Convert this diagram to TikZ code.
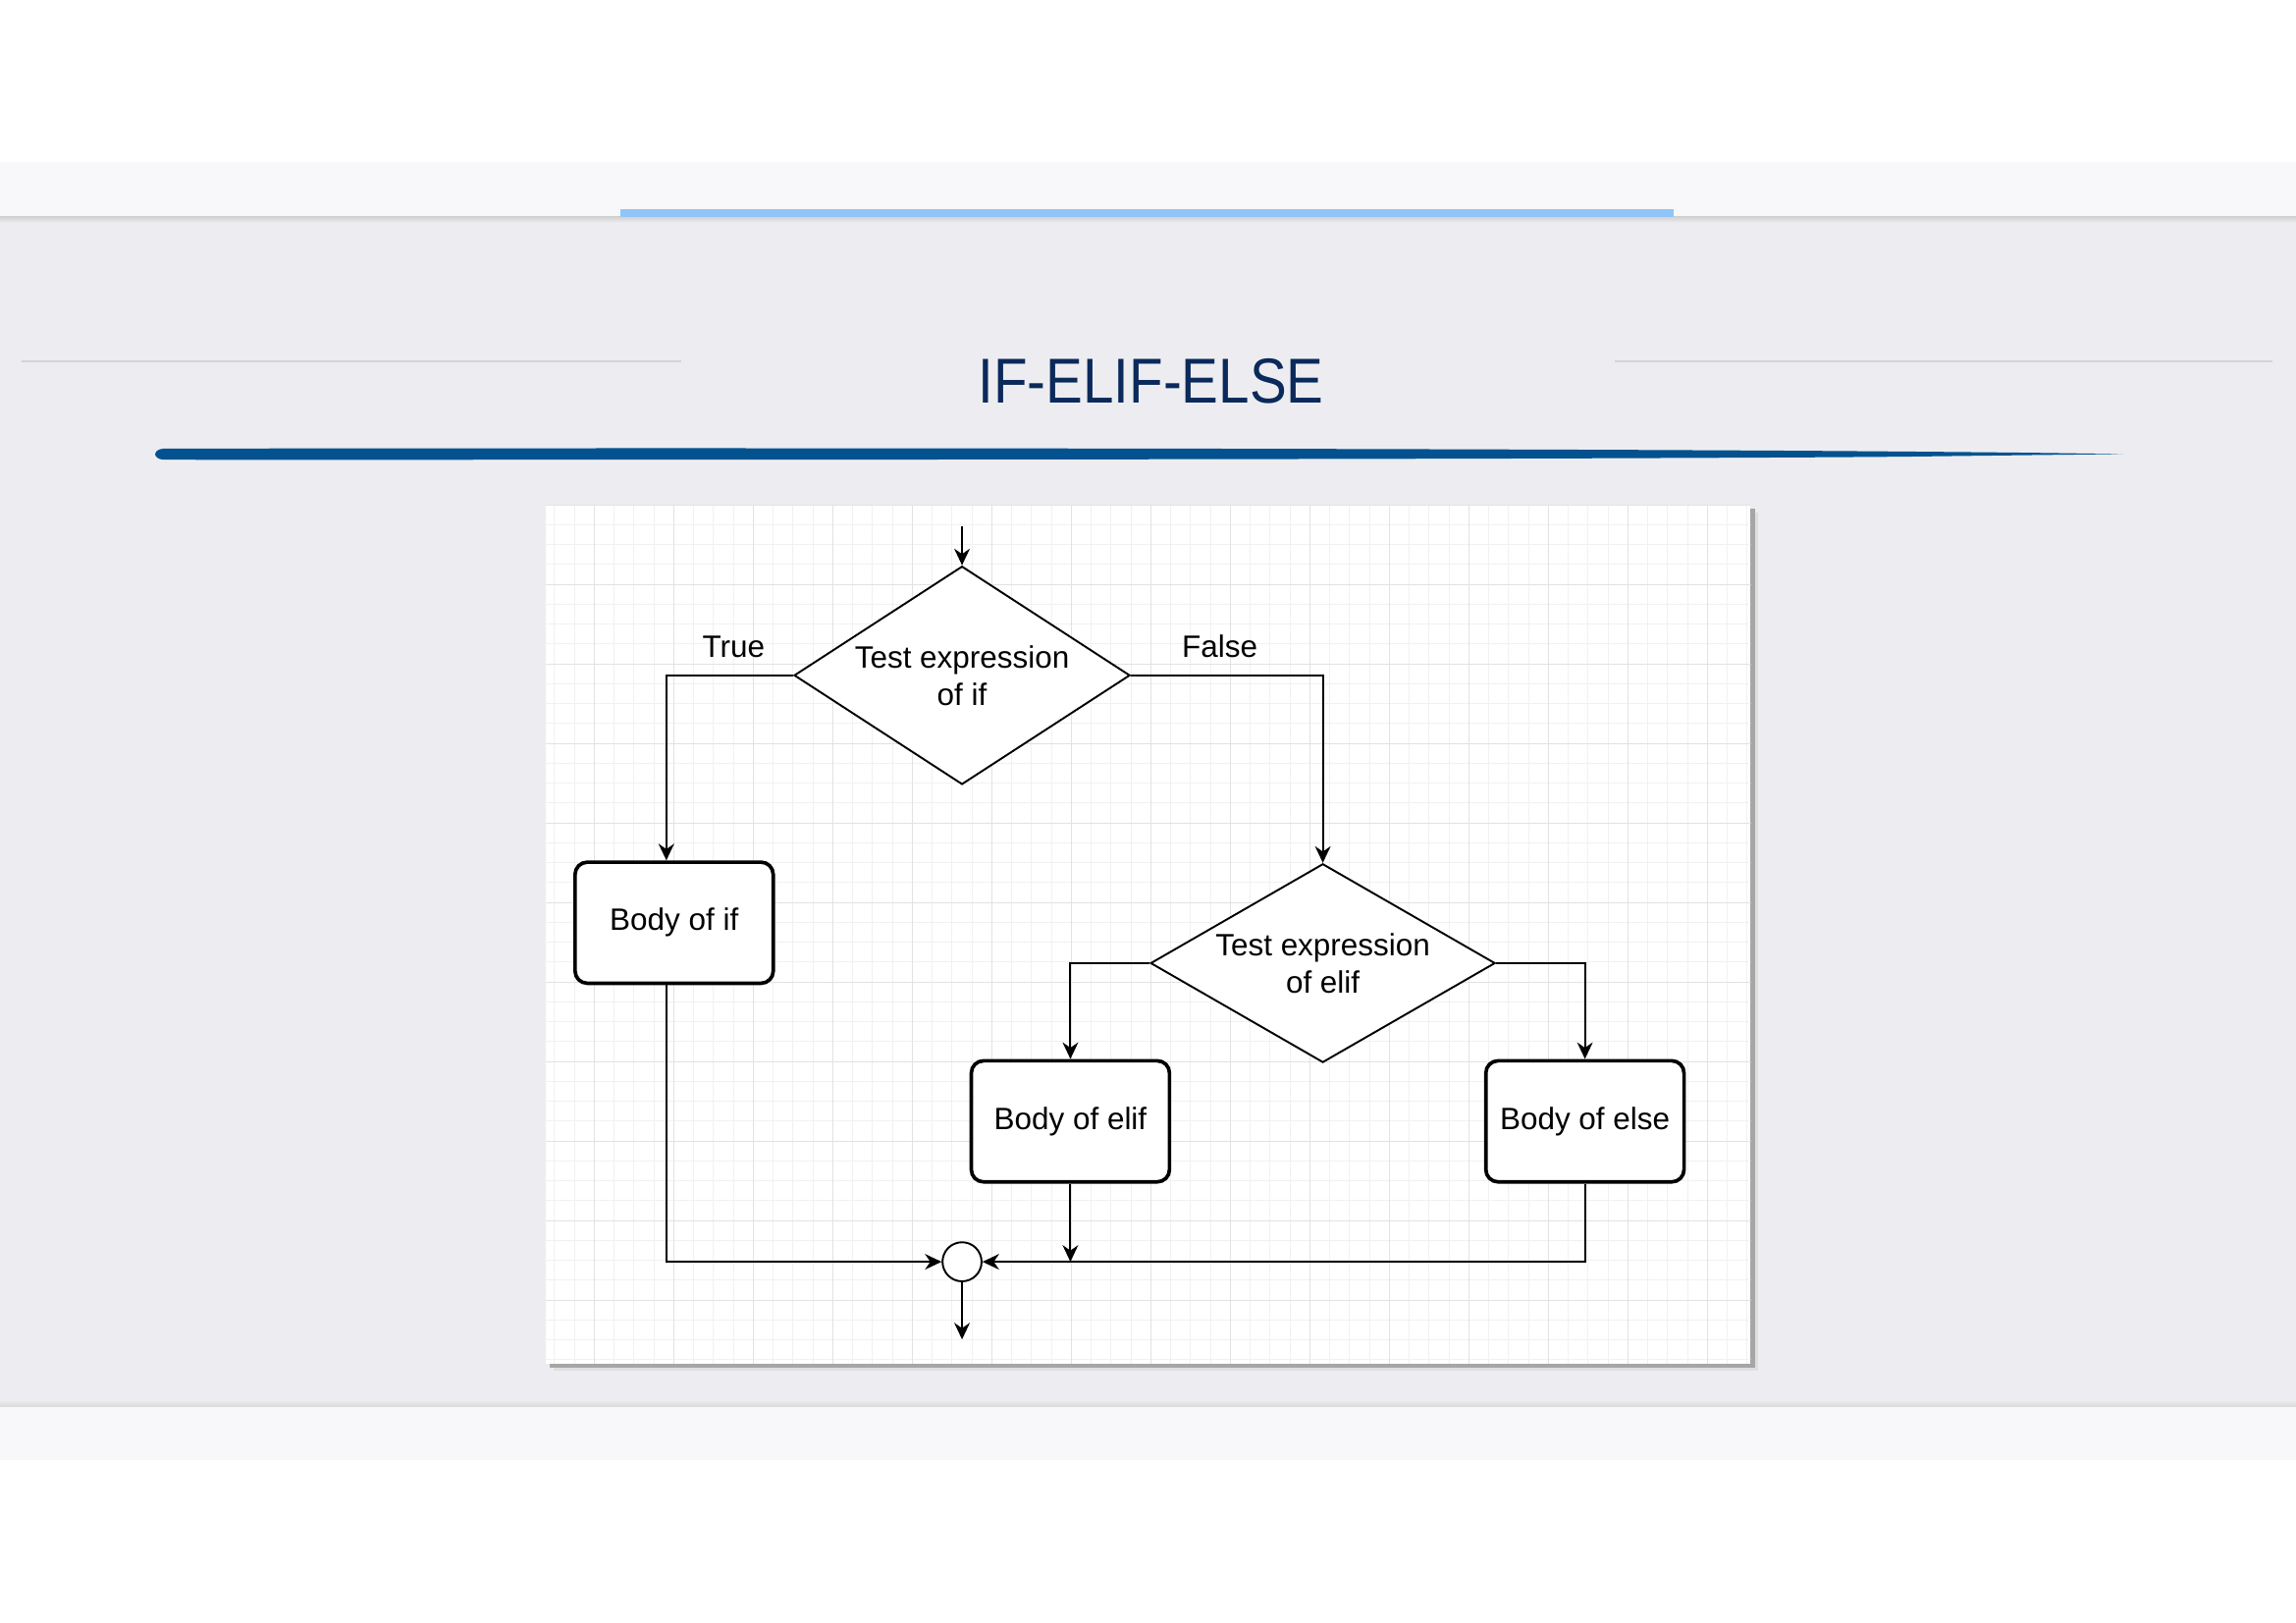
\documentclass[tikz,border=0pt]{standalone}
\usepackage{fontspec}
\setmainfont{Liberation Sans}
\usepackage{xcolor}
\usepackage{tikz}
\usetikzlibrary{shapes,arrows.meta,positioning}

\definecolor{pagegray}{HTML}{EDEDF1}
\definecolor{bandgray}{HTML}{F8F8FA}
\definecolor{tabblue}{HTML}{90C5F9}
\definecolor{titlenavy}{HTML}{0B2A5B}
\definecolor{brushblue}{HTML}{03528F}
\definecolor{rulegray}{HTML}{D3D3D8}
\definecolor{gridminor}{HTML}{F1F1F1}
\definecolor{gridmajor}{HTML}{E2E2E2}

\begin{document}
\begin{tikzpicture}[x=0.3mm, y=-0.3mm,
  txt/.style={font=\fontsize{18}{21.7}\selectfont},
  decision/.style={diamond, draw, line width=1.1pt, fill=white, inner sep=0pt, align=center, txt},
  bodybox/.style={rectangle, draw, line width=2.1pt, rounded corners=2.5mm, fill=white, minimum width=40.6mm, minimum height=24.8mm, txt},
  joint/.style={circle, draw, line width=1.1pt, fill=white, minimum size=8mm, inner sep=0pt},
  flow/.style={line width=1.1pt, -{Stealth[length=3.4mm, width=3.2mm, inset=1.1mm]}},
  lbl/.style={txt, anchor=base, inner sep=0pt}
]
\useasboundingbox (0,0) rectangle (1568,1108.1);

% page background
\fill[white] (0,0) rectangle (1568,1108.1);
\fill[bandgray] (0,110.5) rectangle (1568,148);
\fill[pagegray] (0,148) rectangle (1568,960.5);
\shade[top color=gray!35, bottom color=pagegray] (0,148) rectangle (1568,152);
\shade[top color=pagegray, bottom color=gray!30] (0,956) rectangle (1568,960.5);
\fill[bandgray] (0,960.5) rectangle (1568,997);
\fill[tabblue] (424,142.6) rectangle (1143,148.2);

% title
\node[text=titlenavy, font=\fontsize{37}{40}\selectfont, xscale=0.875, anchor=base] (title) at (786,275) {IF-ELIF-ELSE};
\draw[rulegray, line width=0.45mm] (15,246.9) -- (465,246.9);
\draw[rulegray, line width=0.45mm] (1103,246.9) -- (1552,246.9);

% brush stroke
\fill[brushblue] (112,306.3) .. controls (600,305.5) and (1100,306.5) .. (1300,308.3)
  .. controls (1380,309) .. (1450,310) .. controls (1380,310.8) .. (1300,311.8)
  .. controls (1100,313.5) and (600,314) .. (112,313.9)
  .. controls (104,313.5) and (104,306.7) .. (112,306.3) -- cycle;

% drawing panel with shadow
\fill[gray!25] (378,350) rectangle (1200.5,936);
\fill[gray!70] (375.5,347.5) rectangle (1198.5,933.8);
\fill[white] (373,345) rectangle (1195.5,931);
\begin{scope}
\clip (373,345) rectangle (1195.5,931);
\foreach \i in {-18,...,42}
  \draw[gridminor, line width=0.2mm] ({623+13.575*\i},345) -- ({623+13.575*\i},931);
\foreach \j in {-40,...,3}
  \draw[gridminor, line width=0.2mm] (373,{887.6+13.575*\j}) -- (1196,{887.6+13.575*\j});
\foreach \i in {-16,-12,...,40}
  \draw[gridmajor, line width=0.2mm] ({623+13.575*\i},345) -- ({623+13.575*\i},931);
\foreach \j in {-40,-36,...,0}
  \draw[gridmajor, line width=0.2mm] (373,{887.6+13.575*\j}) -- (1196,{887.6+13.575*\j});
\end{scope}

% decisions
\node[decision, shape aspect=1.54, minimum width=68.8mm, minimum height=44.7mm] (dif) at (657,461.1) {Test expression\\of if};
\node[decision, shape aspect=1.73, minimum width=70.6mm, minimum height=40.7mm] (delif) at (903.4,657.6) {Test expression\\of elif};

% bodies
\node[bodybox] (bif) at (460.4,630) {Body of if};
\node[bodybox] (belif) at (731,765.6) {Body of elif};
\node[bodybox] (belse) at (1082.4,765.6) {Body of else};

% join
\node[joint] (join) at (657,861.5) {};
\coordinate (entry) at (657,359.3);
\coordinate (exit) at (657,914.5);

% branch labels
\node[lbl] (ltrue) at (501,449) {True};
\node[lbl] (lfalse) at (833,449) {False};

% connectors
\draw[flow] (entry) -- (dif.north);
\draw[flow] (dif.west) -| ([xshift=-1.6mm]bif.north);
\draw[flow] (dif.east) -| (delif.north);
\draw[flow] (delif.west) -| (belif.north);
\draw[flow] (delif.east) -| (belse.north);
\draw[flow] ([xshift=-1.6mm]bif.south) |- (join.west);
\draw[flow] (belif.south) -- (belif.south |- join);
\draw[flow] (belse.south) |- (join.east);
\draw[flow] (join.south) -- (exit);
\end{tikzpicture}
\end{document}
